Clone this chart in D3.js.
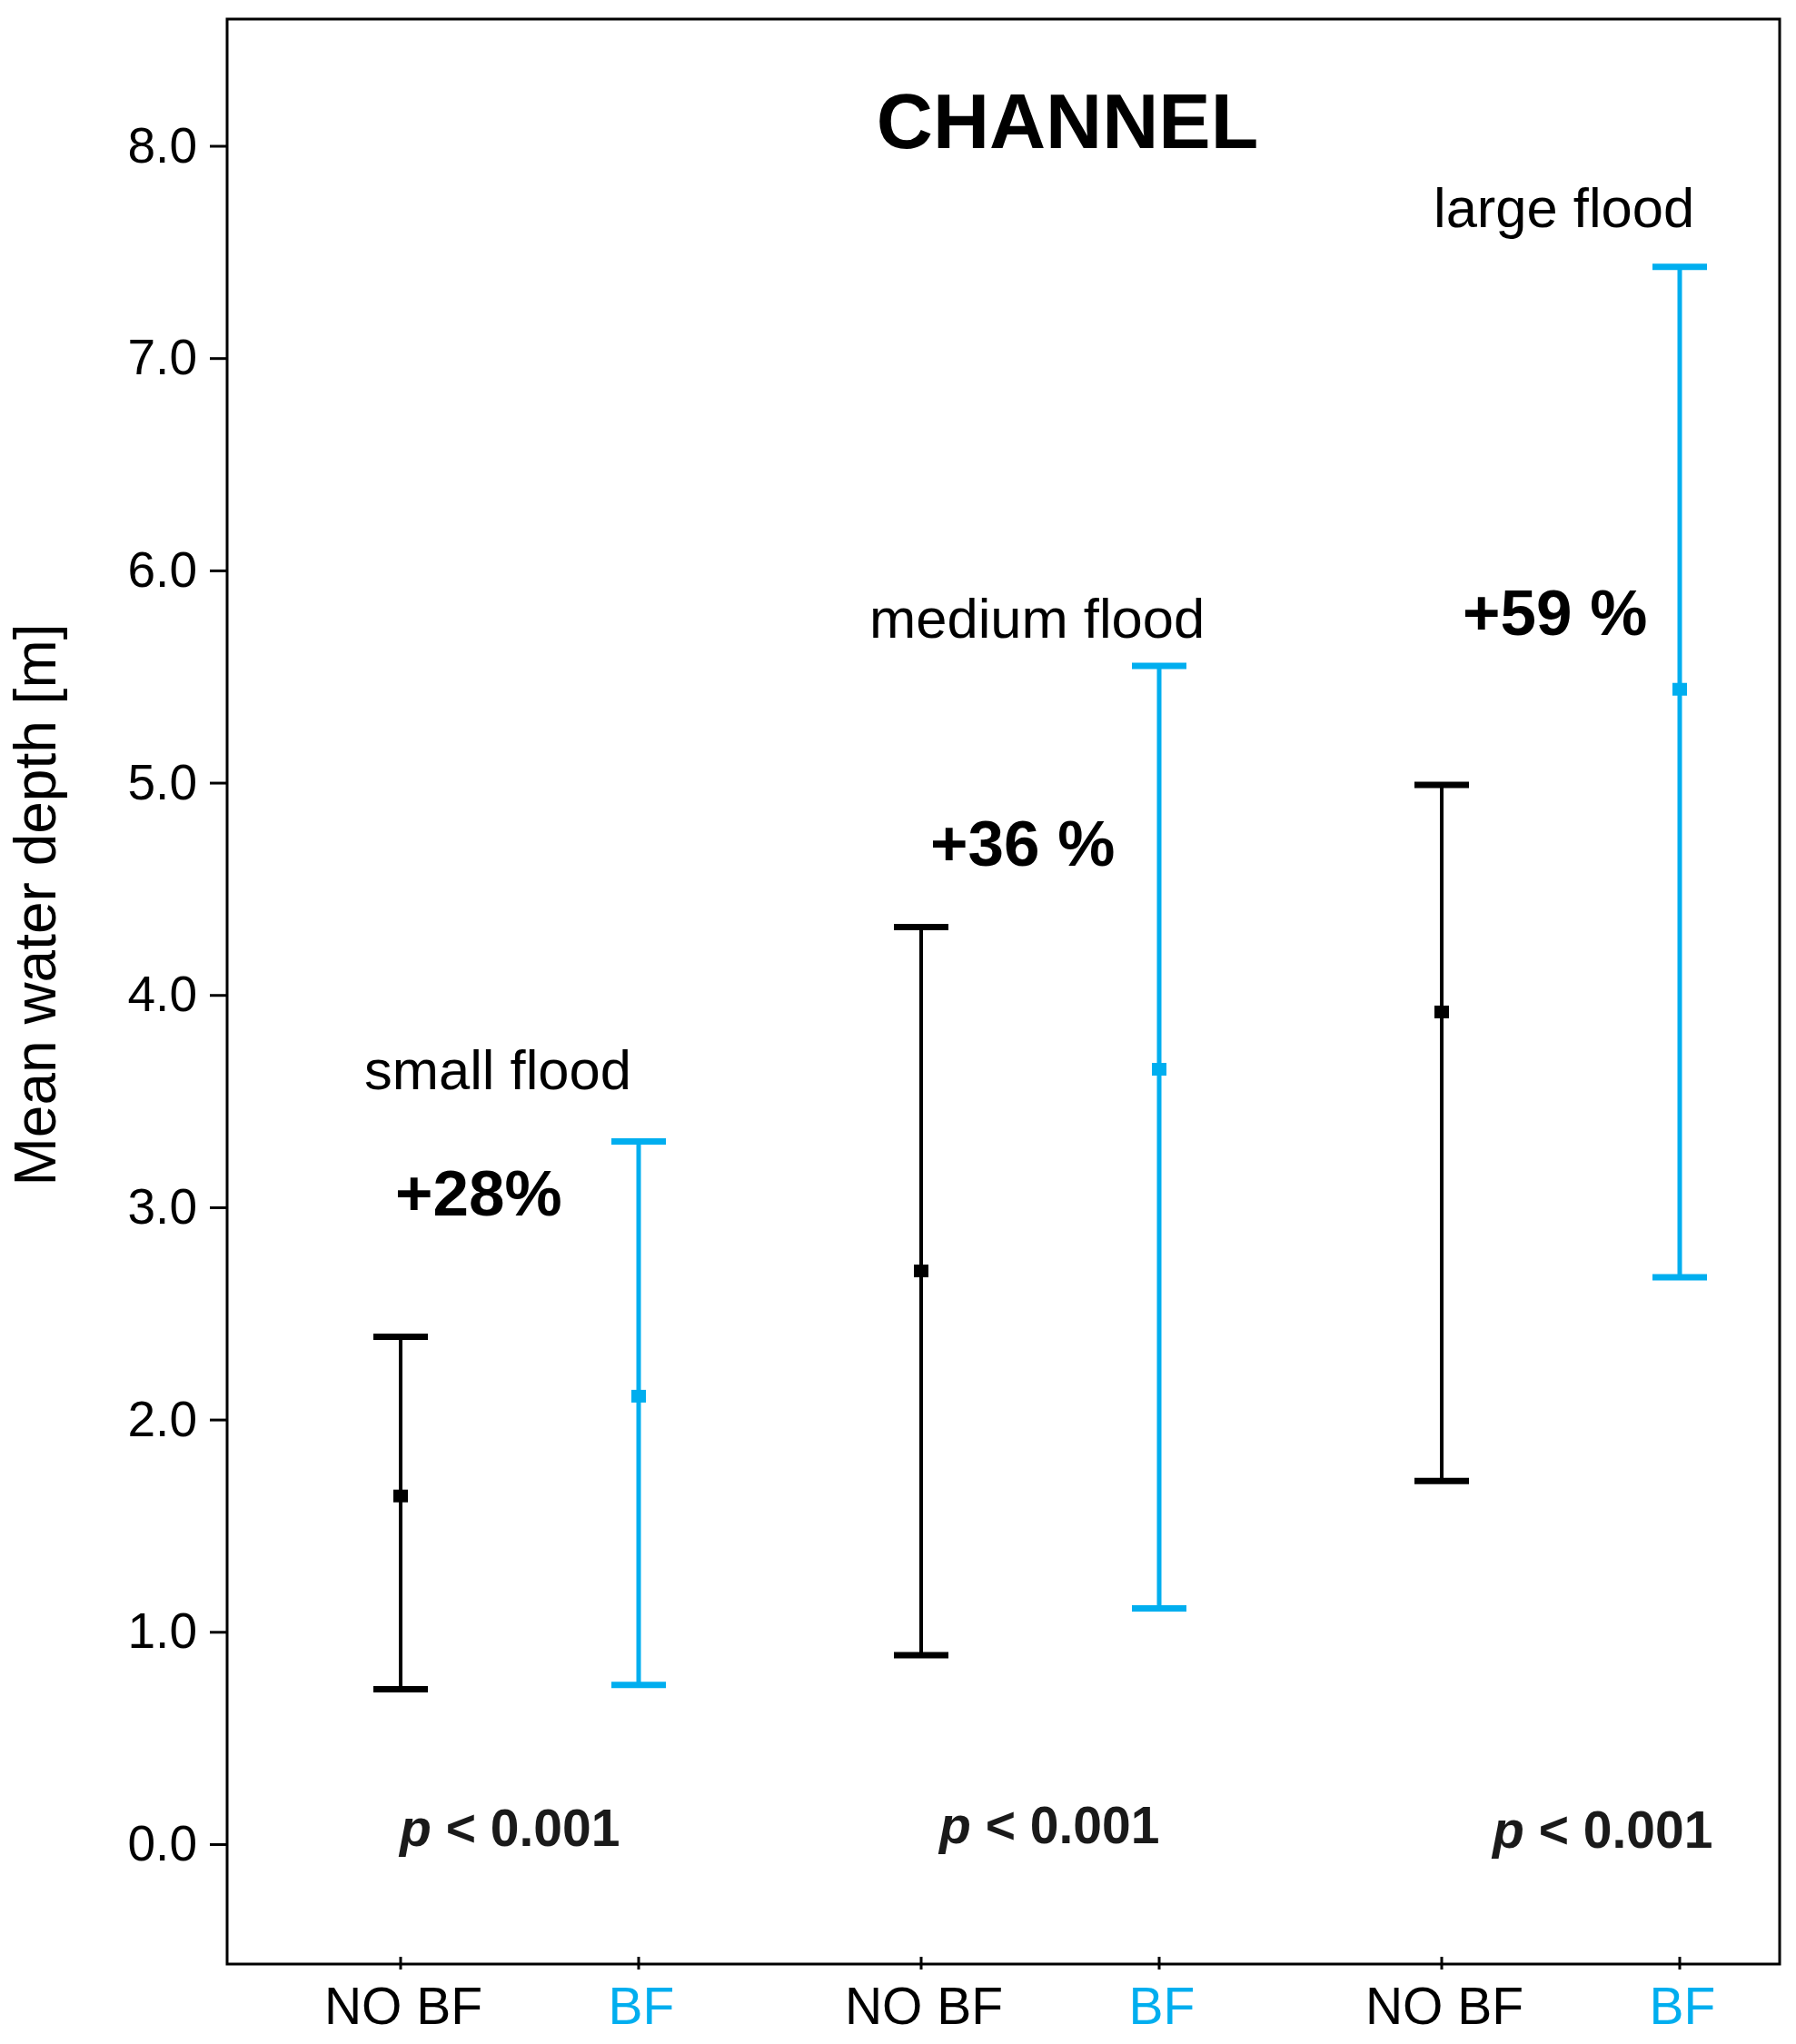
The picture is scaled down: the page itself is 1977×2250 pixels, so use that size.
<!DOCTYPE html>
<html>
<head>
<meta charset="utf-8">
<script src="https://cdn.jsdelivr.net/npm/d3@7"></script>
<style>
  body { margin: 0; background: #fff; }
  text { font-family: "Liberation Sans", Arial, sans-serif; }
</style>
</head>
<body>
<div class="chart"></div>
<script>
// flood classes and the two scenarios
var floods = ["small flood", "medium flood", "large flood"];
var scenarios = ["NO BF", "BF"];

// mean water depth [m] with lower / upper whisker, per flood
var noBfMean  = [1.64, 2.70, 3.92];
var noBfLow   = [0.73, 0.89, 1.71];
var noBfHigh  = [2.39, 4.32, 4.99];
var bfMean    = [2.11, 3.65, 5.44];
var bfLow     = [0.75, 1.11, 2.67];
var bfHigh    = [3.31, 5.55, 7.43];

var increase = ["+28%", "+36 %", "+59 %"];
var pValue   = ["< 0.001", "< 0.001", "< 0.001"];
var yTicks   = [0, 1, 2, 3, 4, 5, 6, 7, 8];

var blue = "#00aeef";
var colors = { "NO BF": "#000", "BF": blue };

var rows = [];
floods.forEach(function (f, i) {
  rows.push({ flood: f, sc: "NO BF", mean: noBfMean[i], lo: noBfLow[i], hi: noBfHigh[i] });
  rows.push({ flood: f, sc: "BF", mean: bfMean[i], lo: bfLow[i], hi: bfHigh[i] });
});

var W = 1977, H = 2250;
var plotL = 250, plotR = 1959, plotT = 21, plotB = 2162;

var svg = d3.select(".chart").append("svg")
    .attr("width", W)
    .attr("height", H);

var y = d3.scaleLinear().domain([-0.565, 8.597]).range([plotB, plotT]);
var xg = d3.scalePoint().domain(floods).range([572, 1718]);
var xi = d3.scalePoint().domain(scenarios).range([-131, 131]);
function xPos(f, s) { return xg(f) + xi(s); }

// frame
svg.append("rect")
    .attr("x", plotL).attr("y", plotT)
    .attr("width", plotR - plotL).attr("height", plotB - plotT)
    .attr("fill", "none").attr("stroke", "#000").attr("stroke-width", 3);

// y axis
var yAxis = svg.append("g")
    .attr("transform", "translate(" + plotL + ",0)")
    .call(d3.axisLeft(y).tickValues(yTicks).tickSize(19).tickPadding(14)
      .tickFormat(d3.format(".1f")));
yAxis.select(".domain").remove();
yAxis.selectAll("line").attr("stroke", "#000").attr("stroke-width", 3);
yAxis.selectAll("text").attr("font-size", 55).attr("fill", "#000")
    .attr("font-family", "Liberation Sans, Arial, sans-serif");

// x axis ticks and labels
var xTicks = svg.append("g");
rows.forEach(function (d) {
  var x = xPos(d.flood, d.sc);
  xTicks.append("line")
      .attr("x1", x).attr("x2", x)
      .attr("y1", plotB - 8).attr("y2", plotB + 6)
      .attr("stroke", "#000").attr("stroke-width", 3);
  xTicks.append("text")
      .attr("x", x + 3).attr("y", 2228)
      .attr("text-anchor", "middle")
      .attr("font-size", 57)
      .attr("fill", colors[d.sc])
      .text(d.sc);
});

// y title
svg.append("text")
    .attr("transform", "translate(61,996) rotate(-90)")
    .attr("text-anchor", "middle")
    .attr("font-size", 64)
    .text("Mean water depth [m]");

// error bars
var bars = svg.selectAll(".bar").data(rows).enter().append("g").attr("class", "bar");
bars.append("line")
    .attr("x1", function (d) { return xPos(d.flood, d.sc); })
    .attr("x2", function (d) { return xPos(d.flood, d.sc); })
    .attr("y1", function (d) { return y(d.lo); })
    .attr("y2", function (d) { return y(d.hi); })
    .attr("stroke", function (d) { return colors[d.sc]; })
    .attr("stroke-width", function (d) { return d.sc == "BF" ? 5 : 4; });
["lo", "hi"].forEach(function (k) {
  bars.append("line")
      .attr("x1", function (d) { return xPos(d.flood, d.sc) - 30; })
      .attr("x2", function (d) { return xPos(d.flood, d.sc) + 30; })
      .attr("y1", function (d) { return y(d[k]); })
      .attr("y2", function (d) { return y(d[k]); })
      .attr("stroke", function (d) { return colors[d.sc]; })
      .attr("stroke-width", 7);
});
bars.append("rect")
    .attr("x", function (d) { return xPos(d.flood, d.sc) - 8; })
    .attr("y", function (d) { return y(d.mean) - 7; })
    .attr("width", 16).attr("height", 14)
    .attr("fill", function (d) { return colors[d.sc]; });

// title
svg.append("text")
    .attr("x", 1175).attr("y", 163)
    .attr("text-anchor", "middle")
    .attr("font-size", 86).attr("font-weight", "bold")
    .text("CHANNEL");

// flood labels, increases, p values
var floodLabelPos = [[401, 1199], [957, 702], [1578, 250]];
var incPos = [[435, 1338], [1024, 953], [1610, 699]];
var pPos = [[440, 2032], [1034, 2029], [1643, 2034]];

floods.forEach(function (f, i) {
  svg.append("text")
      .attr("x", floodLabelPos[i][0]).attr("y", floodLabelPos[i][1])
      .attr("font-size", 61.5)
      .text(f);
  svg.append("text")
      .attr("x", incPos[i][0]).attr("y", incPos[i][1])
      .attr("font-size", 71).attr("font-weight", "bold")
      .text(increase[i]);
  var t = svg.append("text")
      .attr("x", pPos[i][0]).attr("y", pPos[i][1])
      .attr("font-size", 57).attr("font-weight", "bold")
      .attr("fill", "#1a1a1a");
  t.append("tspan").attr("font-style", "italic").text("p");
  t.append("tspan").text(" " + pValue[i]);
});
</script>
</body>
</html>
